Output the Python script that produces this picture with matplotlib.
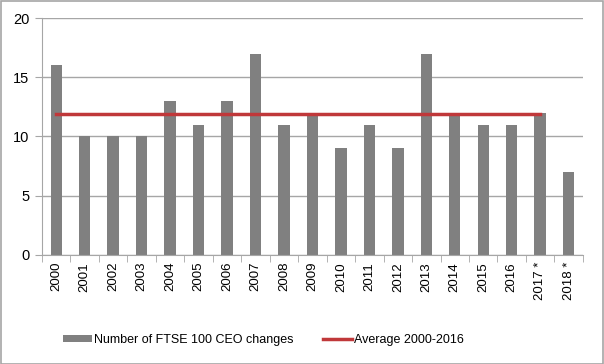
import numpy as np
import matplotlib
matplotlib.use("Agg")
from matplotlib import pyplot as plt

years = ["2000", "2001", "2002", "2003", "2004", "2005", "2006", "2007", "2008", "2009",
         "2010", "2011", "2012", "2013", "2014", "2015", "2016", "2017 *", "2018 *"]
ceo_changes = [16, 10, 10, 10, 13, 11, 13, 17, 11, 12, 9, 11, 9, 17, 12, 11, 11, 12, 7]

# average of 2000-2016, drawn across 2000..2017*
avg_value = np.mean(ceo_changes[:17])
avg_span = 18

plt.rcParams["font.family"] = ["Liberation Sans", "DejaVu Sans"]

fig = plt.figure(figsize=(6.04, 3.64), dpi=100)
ax = fig.add_axes([0.0695, 0.2995, 0.8955, 0.651])

x = np.arange(len(years))
bars = ax.bar(x, ceo_changes, width=0.4, color="#808080", label="Number of FTSE 100 CEO changes", zorder=2)
line, = ax.plot(x[:avg_span], [avg_value] * avg_span, color="#c0383a", lw=2.5, label="Average 2000-2016", zorder=3)

ax.set_xlim(-0.5, len(years) - 0.5)
ax.set_ylim(0, 20)
ax.set_yticks([0, 5, 10, 15, 20])
ax.grid(axis="y", color="#a6a6a6", lw=1, zorder=0)
ax.tick_params(axis="y", length=5, color="#a6a6a6", labelsize=10.5, pad=4)

ax.set_xticks(x)
ax.set_xticklabels(years, rotation=90, fontsize=9.5)
ax.tick_params(axis="x", length=0, pad=5)
ax.set_xticks(np.arange(-0.5, len(years)), minor=True)
ax.tick_params(axis="x", which="minor", length=5, color="#a6a6a6")

for s in ["top", "right"]:
    ax.spines[s].set_visible(False)
ax.spines["left"].set_color("#a6a6a6")
ax.spines["bottom"].set_color("#a6a6a6")

fig.legend([bars, line], ["Number of FTSE 100 CEO changes", "Average 2000-2016"],
           loc="center", bbox_to_anchor=(0.436, 0.065), ncol=2, frameon=False,
           fontsize=9, handlelength=2.3, handleheight=0.5, handletextpad=0.15, columnspacing=2.4)

fig.patches.append(plt.Rectangle((0.001, 0.001), 0.997, 0.996, transform=fig.transFigure,
                                 fill=False, edgecolor="#a6a6a6", lw=1.2))

fig.savefig("out.png", dpi=100)
